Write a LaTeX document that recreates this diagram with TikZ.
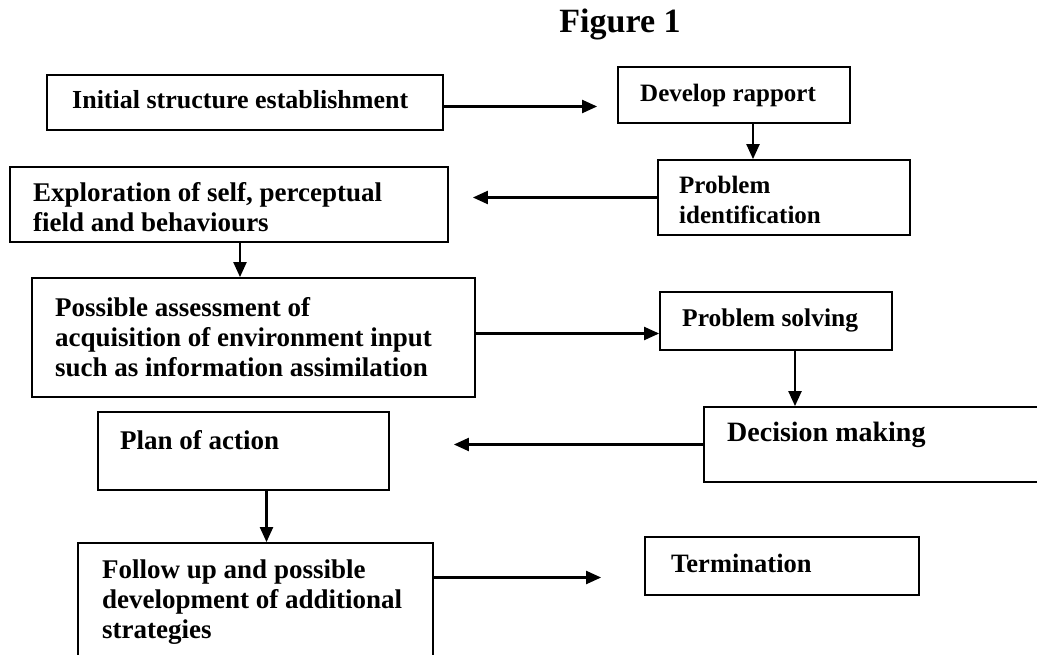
\documentclass[tikz,border=0pt]{standalone}
\usepackage{fontspec}
\setmainfont{Liberation Serif}
\usetikzlibrary{arrows.meta}
\begin{document}
\begin{tikzpicture}[x=1pt,y=-1pt,
  box/.style={draw, line width=1.8pt, inner sep=0pt},
  txt/.style={anchor=west, inner sep=0pt, align=left, font=\fontsize{#1}{30}\selectfont\bfseries},
  txt/.default=26,
  arr/.style={line width=2.2pt, -{Triangle[length=15pt,width=13pt]}}]
\useasboundingbox (0,0) rectangle (1037,655);
% title
\node[font=\fontsize{34}{38}\selectfont\bfseries] (title) at (620,24) {Figure 1};
% boxes
\node[box, minimum width=396pt, minimum height=55pt] (b1) at (245,102.5) {};
\node[box, minimum width=232pt, minimum height=56pt] (b2) at (734,95) {};
\node[box, minimum width=252pt, minimum height=75pt] (b3) at (784,197.5) {};
\node[box, minimum width=438pt, minimum height=75pt] (b4) at (229,204.5) {};
\node[box, minimum width=443pt, minimum height=119pt] (b5) at (253.5,337.5) {};
\node[box, minimum width=232pt, minimum height=58pt] (b6) at (776,321) {};
\node[box, minimum width=341pt, minimum height=75pt] (b7) at (874.5,444.5) {};
\node[box, minimum width=291pt, minimum height=78pt] (b8) at (243.5,451) {};
\node[box, minimum width=355pt, minimum height=127pt] (b9) at (255.5,606.5) {};
\node[box, minimum width=274pt, minimum height=58pt] (b10) at (782,566) {};
% texts
\node[txt=26] (t1) at (72,100) {Initial structure establishment};
\node[txt=25] (t2) at (640,95) {Develop rapport};
\node[txt=25] (t3) at (679,200) {Problem\\identification};
\node[txt=27] (t4) at (33,207) {Exploration of self, perceptual\\field and behaviours};
\node[txt=27] (t5) at (55,337) {Possible assessment of\\acquisition of environment input\\such as information assimilation};
\node[txt=25.5] (t6) at (682,320) {Problem solving};
\node[txt=28] (t7) at (727,435) {Decision making};
\node[txt=27] (t8) at (120,440) {Plan of action};
\node[txt=27] (t9) at (102,602) {Follow up and possible\\development of additional\\strategies};
\node[txt=26.5] (t10) at (671,563) {Termination};
% connectors
\draw[arr, shorten >=20pt] ([yshift=-4pt]b1.east) -- ([yshift=-4pt]b1.east -| b2.west);
\draw[arr] ([xshift=19pt]b2.south) -- ([xshift=19pt]b2.south |- b3.north);
\draw[arr, shorten >=24pt] (b3.west) -- (b3.west -| b4.east);
\draw[arr] ([xshift=11pt]b4.south) -- ([xshift=11pt]b4.south |- b5.north);
\draw[arr] ([yshift=4pt]b5.east) -- ([yshift=4pt]b5.east -| b6.west);
\draw[arr] ([xshift=19pt]b6.south) -- ([xshift=19pt]b6.south |- b7.north);
\draw[arr, shorten >=64pt] (b7.west) -- (b7.west -| b8.east);
\draw[arr] ([xshift=23pt]b8.south) -- ([xshift=23pt]b8.south |- b9.north);
\draw[arr, shorten >=43pt] ([yshift=29pt]b9.east) -- ([yshift=29pt]b9.east -| b10.west);
\end{tikzpicture}
\end{document}
